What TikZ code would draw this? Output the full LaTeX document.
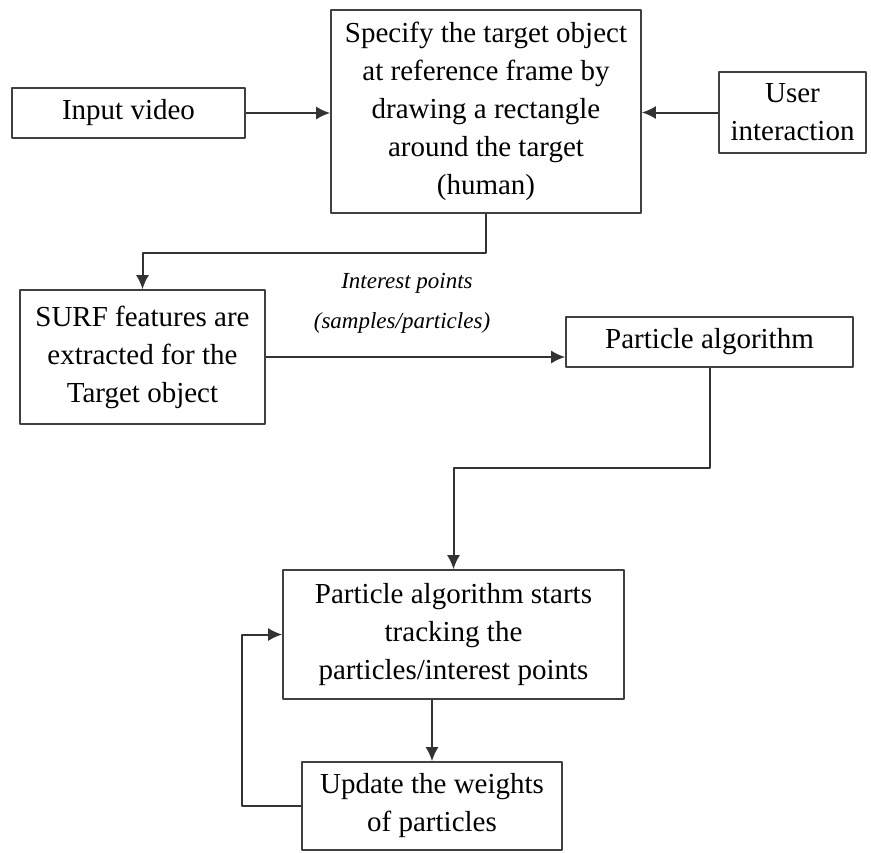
\documentclass[tikz,border=0pt]{standalone}
\usepackage{fontspec}
\setmainfont{Liberation Serif}
\usetikzlibrary{calc,arrows.meta}
\tikzset{>={Latex[length=7pt,width=6.5pt]}}
\tikzset{box/.style={draw=black!75, line width=0.8pt, align=center, inner sep=0pt,
    font=\fontsize{14.5}{19}\selectfont}}

\begin{document}
\begin{tikzpicture}[x=0.5pt, y=-0.5pt, line join = round]
    \useasboundingbox (0,0) rectangle (871,852);
    \node[box, minimum width=116.5pt, minimum height=25pt] (input) at (128.5,113) {Input video};
    \node[box, minimum width=155pt, minimum height=101.5pt] (spec) at (486,111.5) {Specify the target object\\ at reference frame by\\ drawing a rectangle\\ around the target\\ (human)};
    \node[box, minimum width=73.5pt, minimum height=40.5pt] (user) at (792.5,112.5) {User\\ interaction};
    \node[box, minimum width=122.5pt, minimum height=67pt] (surf) at (142.5,357) {SURF features are\\ extracted for the\\ Target object};
    \node[box, minimum width=143.5pt, minimum height=25pt] (pa) at (709.5,342) {Particle algorithm};
    \node[box, minimum width=170.5pt, minimum height=64.5pt] (starts) at (453.5,634.5) {Particle algorithm starts\\ tracking the\\ particles/interest points};
    \node[box, minimum width=130pt, minimum height=44pt] (update) at (432,806) {Update the weights\\ of particles};
    \node[font=\fontsize{11.5}{14}\itshape] (lbla) at (407,283) {Interest points};
    \node[font=\fontsize{11.5}{14}\itshape] (lblb) at (402,323) {(samples/particles)};

    \draw[->, black!80, line width=1pt] (input.east) -- (input.east -| spec.west);
    \draw[->, black!80, line width=1pt] (user.west) -- (user.west -| spec.east);
    \draw[->, black!80, line width=1pt] (spec.south) -- ++(0,39) -| (surf.north);
    \draw[->, black!80, line width=1pt] (surf.east) -- (surf.east -| pa.west);
    \draw[->, black!80, line width=1pt] (pa.south) -- ++(0,100) -| (starts.north);
    \draw[->, black!80, line width=1pt] (starts.south -| update.north) -- (update.north);
    \draw[->, black!80, line width=1pt] (update.west) -- ++(-59,0) |- (starts.west);

\end{tikzpicture}
\end{document}
